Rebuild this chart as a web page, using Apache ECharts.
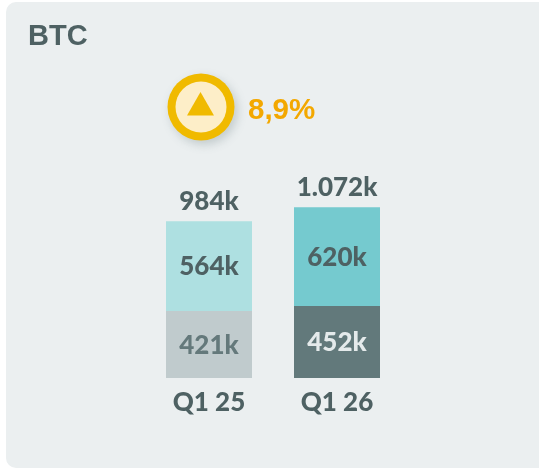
<!DOCTYPE html>
<html>
<head>
<meta charset="utf-8">
<style>
  html, body { margin: 0; padding: 0; background: #fff; overflow: hidden; }
  #card { position: absolute; left: 6px; top: 2px; width: 560px; height: 466px; background: #ebeff0; border-radius: 10px; }
  #chart { position: absolute; left: 0; top: 0; width: 539px; height: 469px; }
</style>
</head>
<body>
<div id="card"></div>
<div id="chart"></div>
<script src="https://cdn.jsdelivr.net/npm/echarts@6/dist/echarts.min.js"></script>
<script>
const categories = ['Q1 25', 'Q1 26'];
const lowerValues = [421, 452];
const upperValues = [564, 620];
const totalValues = [984, 1072];
const totalLabels = ['984k', '1.072k'];
const lowerColors = ['#c0cbcd', '#62797b'];
const upperColors = ['#aee0e1', '#75cacf'];
const lowerLabelColors = ['#64797b', '#e4eaeb'];
const titleText = 'BTC';
const changeText = '8,9%';

const labelFont = 'Lato';
const darkText = '#4e6163';

const chart = echarts.init(document.getElementById('chart'));

chart.setOption({
  animation: false,
  grid: { left: 145, width: 256, top: 187, height: 191 },
  xAxis: {
    type: 'category',
    data: categories,
    axisLine: { show: false },
    axisTick: { show: false },
    axisLabel: { color: darkText, fontFamily: labelFont, fontWeight: 900, fontSize: 26, margin: 12 }
  },
  yAxis: { type: 'value', min: 0, max: 1200, show: false },
  series: [
    {
      type: 'bar',
      stack: 'q',
      barWidth: 86,
      data: lowerValues.map((v, i) => ({
        value: v,
        itemStyle: { color: lowerColors[i] },
        label: { color: lowerLabelColors[i] }
      })),
      label: {
        show: true,
        position: 'inside',
        offset: [0, 1],
        fontFamily: labelFont,
        fontWeight: 900,
        fontSize: 26,
        formatter: p => p.value + 'k'
      }
    },
    {
      type: 'bar',
      stack: 'q',
      barWidth: 86,
      data: upperValues.map((v, i) => ({ value: v, itemStyle: { color: upperColors[i] } })),
      label: {
        show: true,
        position: 'inside',
        offset: [0, 1],
        color: darkText,
        fontFamily: labelFont,
        fontWeight: 900,
        fontSize: 26,
        formatter: p => p.value + 'k'
      }
    },
    {
      // invisible line, only there to put the totals above the stacks
      type: 'line',
      data: totalValues,
      symbol: 'circle',
      symbolSize: 1,
      itemStyle: { color: 'transparent' },
      lineStyle: { opacity: 0 },
      label: {
        show: true,
        position: 'top',
        distance: 6,
        color: darkText,
        fontFamily: labelFont,
        fontWeight: 900,
        fontSize: 26,
        formatter: p => totalLabels[p.dataIndex]
      }
    }
  ],
  graphic: [
    {
      type: 'text',
      left: 28,
      top: 22,
      style: { text: titleText, fill: darkText, font: 'bold 29px "Liberation Sans"' }
    },
    {
      type: 'circle',
      shape: { cx: 201, cy: 107, r: 33.5 },
      style: {
        fill: '#f0ba00',
        shadowBlur: 10,
        shadowOffsetX: 3,
        shadowOffsetY: 4,
        shadowColor: 'rgba(90,110,115,0.28)'
      }
    },
    {
      type: 'circle',
      shape: { cx: 201, cy: 107, r: 25.5 },
      style: { fill: '#fdeec8' }
    },
    {
      type: 'polygon',
      shape: { points: [[200.5, 92], [214, 115.5], [187, 115.5]] },
      style: { fill: '#f0ba00' }
    },
    {
      type: 'text',
      left: 248,
      top: 96,
      style: { text: changeText, fill: '#f3a800', font: 'bold 29.5px "Liberation Sans"' }
    }
  ]
});
</script>
</body>
</html>
